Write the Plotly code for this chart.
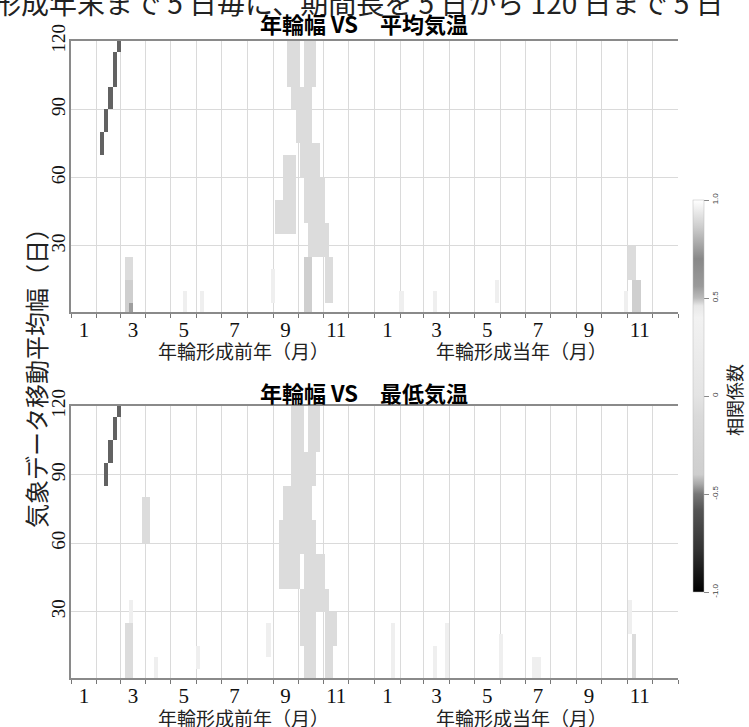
import plotly.graph_objects as go

# ---------------- data ----------------
month_days = [31, 28, 31, 30, 31, 30, 31, 31, 30, 31, 30, 31]
month_labels = ["1", "3", "5", "7", "9", "11", "1", "3", "5", "7", "9", "11"]
window_lengths = list(range(5, 125, 5))      # moving-average width (days)
end_days = list(range(5, 735, 5))            # end day of window over 2 years

L, M, D, F, K = -0.08, -0.38, -0.46, 0.30, -0.55   # correlation levels

# regions: [day_from, day_to, window_from, window_to, r]
mean_temp_regions = [
    [35, 40, 70, 80, K], [40, 45, 80, 90, K], [45, 50, 90, 100, K],
    [50, 55, 100, 115, K], [55, 60, 115, 120, K],
    [260, 275, 100, 120, L], [280, 295, 100, 120, L],
    [265, 290, 90, 100, L], [270, 290, 75, 90, L], [275, 300, 60, 75, L],
    [255, 270, 50, 70, L], [245, 270, 35, 50, L],
    [280, 305, 40, 60, L], [285, 310, 25, 40, L],
    [280, 290, 0, 25, M], [305, 315, 5, 25, L], [240, 245, 5, 20, F],
    [65, 75, 15, 25, L], [65, 75, 0, 15, M], [70, 75, 0, 5, D],
    [135, 140, 0, 10, F], [155, 160, 0, 10, F], [395, 400, 0, 10, F],
    [435, 440, 0, 10, F], [510, 515, 5, 15, F],
    [670, 680, 15, 30, L], [675, 685, 0, 15, M], [665, 670, 0, 10, F],
]

min_temp_regions = [
    [40, 45, 85, 95, K], [45, 50, 95, 105, K], [50, 55, 105, 115, K],
    [55, 60, 115, 120, K],
    [265, 280, 100, 120, L], [285, 300, 100, 120, L],
    [265, 295, 85, 100, L], [255, 290, 70, 85, L], [250, 295, 55, 70, L],
    [250, 275, 40, 55, L], [280, 305, 40, 55, L], [275, 310, 30, 40, L],
    [275, 295, 15, 30, L], [305, 320, 15, 30, L],
    [280, 295, 0, 15, L], [305, 315, 0, 15, L],
    [85, 95, 60, 80, L],
    [65, 75, 0, 25, L], [70, 75, 25, 35, F],
    [100, 105, 0, 10, F], [150, 155, 5, 15, F], [235, 240, 10, 25, F],
    [385, 390, 0, 25, F], [435, 440, 0, 15, F], [450, 455, 0, 25, F],
    [515, 520, 0, 20, F], [555, 565, 0, 10, F],
    [670, 675, 20, 35, F], [675, 680, 0, 20, L],
]

cbar_vals = [-1.0, -0.5, 0, 0.5, 1.0]
cbar_text = ["-1.0", "-0.5", "0", "0.5", "1.0"]

# ---------------- derived ----------------
boundaries = [0]
for yr in range(2):
    for md in month_days:
        boundaries.append(boundaries[-1] + md)
centers = [(boundaries[i] + boundaries[i + 1]) / 2 for i in range(24)]
label_pos = centers[0::2]

xc = [d - 2.5 for d in end_days]
yc = [w - 2.5 for w in window_lengths]


def build(regions):
    z = [[None] * len(xc) for _ in yc]
    for d0, d1, w0, w1, r in regions:
        for i, cy in enumerate(yc):
            if w0 <= cy <= w1:
                for j, cx in enumerate(xc):
                    if d0 <= cx <= d1:
                        z[i][j] = r
    return z


colorscale = [
    [0.0, "#000000"], [0.11, "#333333"], [0.21, "#555555"], [0.25, "#777777"],
    [0.275, "#a8a8a8"], [0.30, "#cecece"], [0.45, "#dadada"], [0.5, "#e4e4e4"],
    [0.7, "#f2f2f2"], [0.73, "#e8e8e8"], [0.75, "#bbbbbb"], [0.78, "#9a9a9a"],
    [0.85, "#888888"], [0.93, "#cccccc"], [1.0, "#ffffff"],
]

fig = go.Figure()
fig.add_trace(go.Heatmap(
    x=xc, y=yc, z=build(mean_temp_regions), zmin=-1, zmax=1,
    colorscale=colorscale, xaxis="x", yaxis="y", hoverinfo="skip",
    colorbar=dict(
        x=1.0247, xanchor="left", xpad=0, y=0.4427, yanchor="middle", ypad=0,
        len=0.6154, lenmode="fraction", thickness=11,
        outlinewidth=0.5, outlinecolor="#bbbbbb",
        tickmode="array", tickvals=cbar_vals, ticktext=cbar_text,
        ticks="outside", ticklen=5, tickcolor="#888888", tickangle=-90,
        tickfont=dict(family="Liberation Sans", size=8, color="#444444"),
    ),
))
fig.add_trace(go.Heatmap(
    x=xc, y=yc, z=build(min_temp_regions), zmin=-1, zmax=1,
    colorscale=colorscale, xaxis="x2", yaxis="y2", hoverinfo="skip",
    showscale=False,
))

serif = "Liberation Serif"
jp = "Noto Sans CJK JP"


def xax(anchor):
    return dict(
        domain=[0, 1], anchor=anchor, range=[0, 730],
        tickmode="array", tickvals=label_pos, ticktext=month_labels,
        ticks="", showgrid=False, zeroline=False, ticklabelstandoff=-2,
        showline=True, mirror=True, linecolor="#8a8a8a", linewidth=1.5,
        tickfont=dict(family=serif, size=21, color="#111111"),
        minor=dict(tickmode="array", tickvals=boundaries, ticks="outside",
                   ticklen=4, tickcolor="#777777", showgrid=True,
                   gridcolor="#dadada", gridwidth=1),
    )


def yax(anchor, dom):
    return dict(
        domain=dom, anchor=anchor, range=[1, 120],
        tickmode="array", tickvals=[30, 60, 90, 120], ticklabelstandoff=-3,
        tickangle=-90, ticks="", showgrid=True, gridcolor="#dadada",
        zeroline=False, showline=True, linecolor="#8a8a8a", linewidth=1.5,
        tickfont=dict(family=serif, size=19, color="#111111"),
    )


def ann(text, x, y, size, bold=False, angle=0, xanchor="center", color="#222222"):
    return dict(text=("<b>%s</b>" % text) if bold else text, x=x, y=y,
                xref="paper", yref="paper", showarrow=False, xanchor=xanchor,
                yanchor="middle", textangle=angle,
                font=dict(family=jp, size=size, color=color))


fig.update_layout(
    width=749, height=727,
    margin=dict(l=71, r=71, t=41, b=49, autoexpand=False),
    paper_bgcolor="white", plot_bgcolor="white",
    showlegend=False,
    xaxis=xax("y"), yaxis=yax("x", [0.5746, 1.0]),
    xaxis2=xax("y2"), yaxis2=yax("x2", [0.0, 0.427]),
    annotations=[
        ann("形成年末まで 5 日毎に、期間長を 5 日から 120 日まで 5 日", -0.131, 1.0605, 28,
            xanchor="left"),
        ann("年輪幅 VS　平均気温", 0.4827, 1.0285, 22, bold=True, color="#000000"),
        ann("年輪幅 VS　最低気温", 0.4827, 0.449, 22, bold=True, color="#000000"),
        ann("年輪形成前年（月）", 0.285, 0.5134, 19),
        ann("年輪形成当年（月）", 0.7414, 0.5134, 19),
        ann("年輪形成前年（月）", 0.285, -0.0625, 19),
        ann("年輪形成当年（月）", 0.7414, -0.0625, 19),
        ann("気象データ移動平均幅（日）", -0.0577, 0.4804, 24, angle=-90),
        ann("相関係数", 1.0923, 0.4364, 18, angle=-90),
    ],
)

fig.write_html("out.html", config={"displayModeBar": False},
               post_script="document.body.style.margin='0';document.body.style.padding='0';")
